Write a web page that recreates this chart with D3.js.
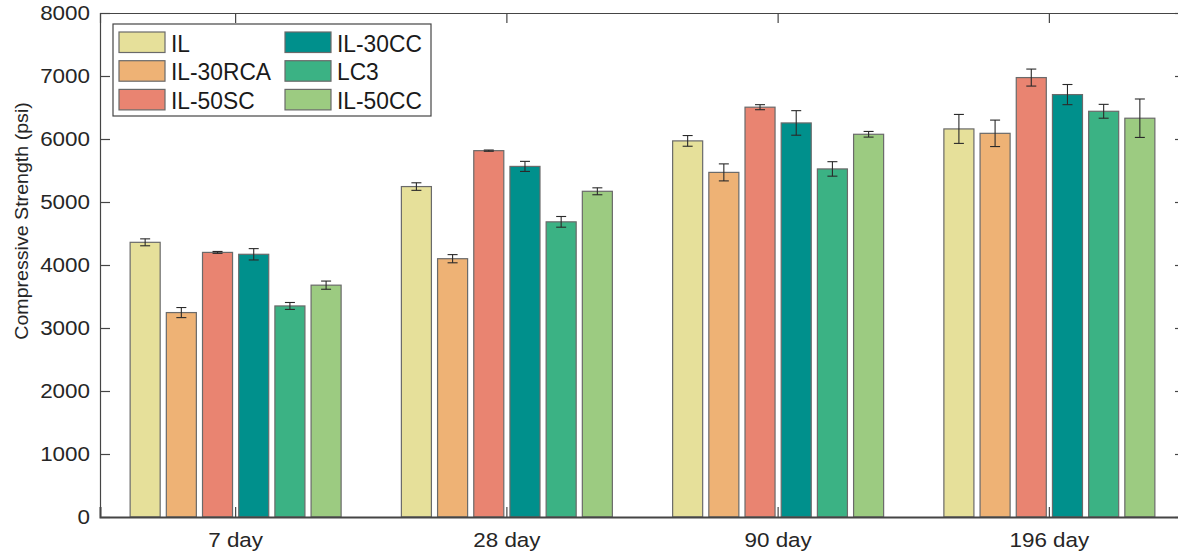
<!DOCTYPE html>
<html>
<head>
<meta charset="utf-8">
<script src="https://cdn.jsdelivr.net/npm/d3@7"></script>
<style>
  html, body { margin: 0; padding: 0; background: #fff; overflow: hidden; }
  svg { display: block; font-family: "Liberation Sans", Arial, Helvetica, sans-serif; }
</style>
</head>
<body>
<svg id="chart" width="1178" height="556"></svg>
<script>
// Curing ages on the x axis
const categories = ["7 day", "28 day", "90 day", "196 day"];
// Mix designs (legend order)
const seriesNames = ["IL", "IL-30RCA", "IL-50SC", "IL-30CC", "LC3", "IL-50CC"];
const seriesColors = ["#e6e09a", "#eeb275", "#e98471", "#00908c", "#3bb284", "#9ccb81"];

// Mean compressive strength (psi) per mix
const valIL     = [4360, 5245, 5970, 6160];
const valRCA30  = [3245, 4100, 5470, 6090];
const valSC50   = [4200, 5815, 6505, 6975];
const valCC30   = [4170, 5565, 6255, 6705];
const valLC3    = [3350, 4685, 5525, 6440];
const valCC50   = [3680, 5170, 6075, 6330];

// Standard deviation (psi) per mix
const errIL     = [55, 60, 85, 230];
const errRCA30  = [80, 65, 135, 210];
const errSC50   = [15, 10, 40, 135];
const errCC30   = [90, 80, 195, 160];
const errLC3    = [55, 85, 115, 110];
const errCC50   = [65, 55, 45, 305];

const yTicks = [0, 1000, 2000, 3000, 4000, 5000, 6000, 7000, 8000];
const yLabel = "Compressive Strength (psi)";

const means = [valIL, valRCA30, valSC50, valCC30, valLC3, valCC50];
const errs  = [errIL, errRCA30, errSC50, errCC30, errLC3, errCC50];

const rows = [];
seriesNames.forEach((s, si) => {
  categories.forEach((c, ci) => {
    rows.push({ series: s, cat: c, value: means[si][ci], err: errs[si][ci], color: seriesColors[si] });
  });
});

const svg = d3.select("#chart");
// the right edge of the axes box sits just past the canvas
const plot = { left: 100, right: 1185, top: 13, bottom: 517 };
const axisColor = "#454545";
const textColor = "#262626";
const stretch = 1.15; // wide Helvetica-like tick lettering

const x = d3.scaleBand().domain(categories).range([plot.left, plot.right]).padding(0);
const inner = d3.scaleBand().domain(seriesNames)
  .range([x.bandwidth() * 0.1, x.bandwidth() * 0.9])
  .paddingInner(0.17).paddingOuter(0.083);
const y = d3.scaleLinear().domain([0, 8000]).range([plot.bottom, plot.top]);

// Bars
const g = svg.append("g");
g.selectAll("rect.bar").data(rows).join("rect")
  .attr("class", "bar")
  .attr("x", d => x(d.cat) + inner(d.series))
  .attr("y", d => y(d.value))
  .attr("width", inner.bandwidth())
  .attr("height", d => y(0) - y(d.value))
  .attr("fill", d => d.color)
  .attr("stroke", "#6a6a6a")
  .attr("stroke-width", 1.2);

// Error bars
const eb = g.selectAll("g.err").data(rows).join("g").attr("class", "err")
  .attr("stroke", "#2a2a2a").attr("stroke-width", 1.1);
const cx = d => x(d.cat) + inner(d.series) + inner.bandwidth() / 2;
eb.append("line")
  .attr("x1", cx).attr("x2", cx)
  .attr("y1", d => y(d.value - d.err)).attr("y2", d => y(d.value + d.err));
eb.append("line")
  .attr("x1", d => cx(d) - 5).attr("x2", d => cx(d) + 5)
  .attr("y1", d => y(d.value + d.err)).attr("y2", d => y(d.value + d.err));
eb.append("line")
  .attr("x1", d => cx(d) - 5).attr("x2", d => cx(d) + 5)
  .attr("y1", d => y(d.value - d.err)).attr("y2", d => y(d.value - d.err));

// Axes (box style with inward ticks)
const tickLen = 10;
const yAxisL = d3.axisLeft(y).tickValues(yTicks).tickSize(-tickLen).tickFormat(d3.format("d"));
const yAxisR = d3.axisRight(y).tickValues(yTicks).tickSize(-tickLen).tickFormat("");
const xAxisB = d3.axisBottom(x).tickSize(-tickLen).tickPadding(16);
const xAxisT = d3.axisTop(x).tickSize(-tickLen).tickFormat("");

function styleAxis(sel) {
  sel.select(".domain").attr("stroke", axisColor).attr("stroke-width", 1.2).attr("fill", "none");
  sel.selectAll(".tick line").attr("stroke", axisColor).attr("stroke-width", 1.2);
  sel.selectAll(".tick text").attr("fill", textColor).style("font-size", "19.5px")
    .attr("transform", `scale(${stretch},1)`);
}

const yl = svg.append("g").attr("transform", `translate(${plot.left},0)`).call(yAxisL).call(styleAxis);
yl.selectAll(".tick text").attr("x", -10 / stretch);
svg.append("g").attr("transform", `translate(${plot.right},0)`).call(yAxisR).call(styleAxis);
svg.append("g").attr("transform", `translate(0,${plot.top})`).call(xAxisT).call(styleAxis);
const xb = svg.append("g").attr("transform", `translate(0,${plot.bottom})`).call(xAxisB).call(styleAxis);
xb.select(".domain").attr("stroke-width", 2);

// Y axis title
svg.append("text")
  .attr("transform", `translate(28,221) rotate(-90) scale(1.09,1)`)
  .attr("text-anchor", "middle")
  .attr("fill", textColor)
  .style("font-size", "18px")
  .text(yLabel);

// Legend
const legend = svg.append("g").attr("transform", "translate(113,24)");
legend.append("rect").attr("width", 318).attr("height", 92)
  .attr("fill", "#fff").attr("stroke", axisColor).attr("stroke-width", 1.2);
const item = legend.selectAll("g.item").data(seriesNames).join("g").attr("class", "item")
  .attr("transform", (d, i) => `translate(${i < 3 ? 6 : 172},${8 + (i % 3) * 28.7})`);
item.append("rect").attr("width", 46).attr("height", 20.5)
  .attr("fill", (d, i) => seriesColors[i]).attr("stroke", "#6a6a6a").attr("stroke-width", 1.2);
item.append("text")
  .attr("transform", "translate(52,19.5) scale(0.95,1)")
  .attr("fill", "#1a1a1a").style("font-size", "24px")
  .text(d => d);
</script>
</body>
</html>
